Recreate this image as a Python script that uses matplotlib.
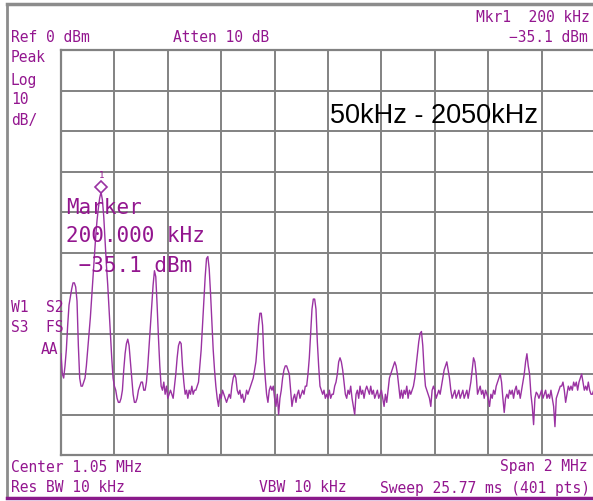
import numpy as np
import matplotlib
matplotlib.use("Agg")
import matplotlib.pyplot as plt
from matplotlib.lines import Line2D
from matplotlib import transforms

# ==================== trace data ====================
# 401 pts, 50 kHz .. 2050 kHz (center 1.05 MHz, span 2 MHz), dBm
f_start_khz = 50
f_stop_khz = 2050
n_points = 401

trace_dbm = [
    -75, -80, -81, -78, -74, -68, -63, -61, -59, -57.5, -57.5, -58.5, -62, -73, -81, -83, -83, -82, -81, -78,
    -74, -70, -66, -61, -56, -51, -46, -42, -39, -36.5, -35.1, -37, -41, -47, -53, -58, -64, -70, -76, -81,
    -83, -84, -86, -87, -87, -86, -84, -79, -75, -72.5, -71.4, -73, -77, -81, -85, -87, -87, -86, -84, -83,
    -82, -82, -84, -84, -82, -78, -73, -68, -63, -58, -54.5, -56, -63, -71, -78, -83, -84, -82, -85, -83,
    -86, -85, -84, -85, -86, -83, -80, -76, -73, -72, -72.5, -78, -82, -85, -84, -86, -84, -85, -83, -85,
    -84, -84, -83, -82, -78, -74, -68, -62, -56, -51.5, -51, -54, -60, -67, -74, -79, -83, -86, -88, -85,
    -86, -84, -85, -86, -87, -86, -85, -86, -83, -81, -80, -81, -84, -85, -84, -86, -85, -87, -86, -84,
    -85, -84, -83, -82, -81, -79, -77, -73, -68, -65, -65, -68, -76, -81, -85, -87, -84, -83, -84, -83,
    -86, -88, -85, -90, -86, -84, -81, -79, -78, -78, -79, -80, -84, -88, -86, -85, -87, -85, -84, -86,
    -85, -84, -85, -83, -83, -80, -76, -70, -64, -61.5, -61.5, -64, -72, -78, -83, -84, -85, -84, -86, -85,
    -86, -84, -86, -85, -85, -83, -82, -80, -77, -76, -77, -79, -82, -85, -86, -84, -85, -83, -86, -88,
    -90, -85, -84, -86, -83, -85, -84, -86, -84, -83, -84, -85, -83, -85, -84, -86, -85, -84, -86, -85,
    -84, -86, -88, -85, -87, -84, -81, -80, -79, -78, -77, -78, -80, -83, -86, -84, -86, -84, -85, -83,
    -86, -84, -85, -84, -83, -81, -78, -75, -72, -70, -69.5, -73, -79, -83, -84, -85, -86, -88, -84, -83,
    -84, -86, -85, -84, -85, -83, -81, -79, -78, -77, -79, -81, -84, -86, -85, -84, -86, -85, -84, -86,
    -85, -84, -86, -85, -84, -86, -84, -82, -79, -76, -77, -80, -85, -84, -83, -85, -84, -86, -84, -85,
    -86, -88, -85, -86, -84, -85, -83, -82, -81, -80, -82, -86, -89.5, -86, -85, -86, -84, -85, -84, -86,
    -84, -83, -85, -84, -86, -84, -82, -80, -77, -75, -78, -80, -85, -88, -92.5, -86, -84.5, -85, -86, -85,
    -84, -86, -85, -84, -86, -85, -86, -84, -86, -88, -93, -86, -85, -84, -83, -83, -82, -84, -87, -85,
    -83, -84, -83, -84, -82, -83, -82, -84, -82, -81, -80, -82, -84, -83, -84, -82, -84, -85, -85, -84,
    -85,
]

marker_khz = 200
marker_dbm = -35.1
ref_level = 0
db_per_div = 10

freqs = np.linspace(f_start_khz, f_stop_khz, n_points)

# ==================== style ====================
W, H = 593, 501
TXT = "#93168f"
TRACE = "#9a32a2"
GRID = "#828282"
MONO = "DejaVu Sans Mono"

fig = plt.figure(figsize=(W / 100, H / 100), dpi=100)
fig.patch.set_facecolor("white")


def fx(x):
    return x / W


def fy(y):
    return 1 - y / H


# graticule area in pixels: x 61..595, y 50..455
ax = fig.add_axes([fx(61), fy(455), (595 - 61) / W, (455 - 50) / H])
ax.set_xlim(f_start_khz, f_stop_khz)
ax.set_ylim(ref_level - 10 * db_per_div, ref_level)
ax.set_xticks(np.linspace(f_start_khz, f_stop_khz, 11))
ax.set_yticks(np.arange(ref_level - 10 * db_per_div, ref_level + 1, db_per_div))
ax.grid(True, color=GRID, linewidth=1.4)
ax.tick_params(length=0, labelbottom=False, labelleft=False)
for s in ax.spines.values():
    s.set_color(GRID)
    s.set_linewidth(1.6)

ax.plot(freqs, trace_dbm, color=TRACE, linewidth=1.0, zorder=3)

# marker diamond sits just above the peak
off = transforms.offset_copy(ax.transData, fig=fig, x=0, y=5, units="dots")
ax.plot([marker_khz], [marker_dbm], marker="D", markersize=6, markerfacecolor="white",
        markeredgecolor=TRACE, markeredgewidth=1.2, transform=off, zorder=4, clip_on=False)
off2 = transforms.offset_copy(ax.transData, fig=fig, x=0, y=17, units="dots")
ax.text(marker_khz, marker_dbm, "1", transform=off2, color=TXT, fontsize=6.5,
        family=MONO, ha="center", va="center", zorder=4)

# ==================== outer frame ====================
fig.add_artist(Line2D([fx(7), 1], [fy(4), fy(4)], color="#8c8c8c", linewidth=2.5))
fig.add_artist(Line2D([fx(7), fx(7)], [fy(4), fy(498)], color="#8c8c8c", linewidth=2.0))
fig.add_artist(Line2D([fx(7), 1], [fy(498), fy(498)], color="#8a1a8a", linewidth=2.5))

# ==================== annotations ====================
small = dict(color=TXT, fontsize=10.5, family=MONO, va="center")
fig.text(fx(11), fy(38), "Ref 0 dBm", ha="left", **small)
fig.text(fx(173), fy(38), "Atten 10 dB", ha="left", **small)
fig.text(fx(590), fy(17), "Mkr1  200 kHz", ha="right", **small)
fig.text(fx(588), fy(37), "\u221235.1 dBm", ha="right", **small)
fig.text(fx(11), fy(58), "Peak", ha="left", **small)
fig.text(fx(11), fy(80), "Log", ha="left", **small)
fig.text(fx(11), fy(100), "10", ha="left", **small)
fig.text(fx(11), fy(121), "dB/", ha="left", **small)
fig.text(fx(11), fy(308), "W1  S2", ha="left", **small)
fig.text(fx(11), fy(328), "S3  FS", ha="left", **small)
fig.text(fx(58), fy(350), "AA", ha="right", **small)
fig.text(fx(11), fy(467), "Center 1.05 MHz", ha="left", **small)
fig.text(fx(588), fy(467), "Span 2 MHz", ha="right", **small)
fig.text(fx(11), fy(488), "Res BW 10 kHz", ha="left", **small)
fig.text(fx(259), fy(488), "VBW 10 kHz", ha="left", **small)
fig.text(fx(590), fy(488), "Sweep 25.77 ms (401 pts)", ha="right", **small)

big = dict(color=TXT, fontsize=15, family=MONO, va="center", ha="left", zorder=5)
fig.text(fx(66), fy(208), "Marker", **big)
fig.text(fx(66), fy(236), "200.000 kHz", **big)
fig.text(fx(66), fy(266), " \u221235.1 dBm", **big)

fig.text(fx(330), fy(116), "50kHz - 2050kHz", color="black", fontsize=19.5,
         family="Liberation Sans", ha="left", va="center")

fig.savefig("out.png", dpi=100, facecolor="white")
